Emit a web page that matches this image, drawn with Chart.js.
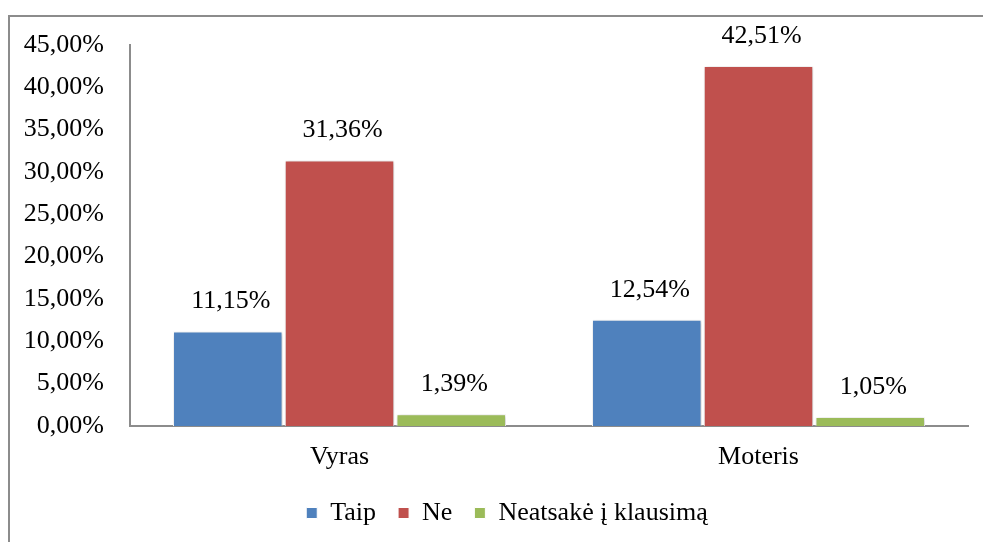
<!DOCTYPE html>
<html>
<head>
<meta charset="utf-8">
<script src="https://cdn.jsdelivr.net/npm/chart.js@4"></script>
<style>
  body { margin: 0; background: #fff; }
  #wrap { position: relative; width: 983px; height: 542px; overflow: hidden; }
  #frame { position: absolute; left: 8px; top: 15px; width: 1200px; height: 800px;
           border-top: 2px solid #8c8c8c; border-left: 2px solid #8c8c8c; }
  #chart { position: absolute; left: 0; top: 0; }
</style>
</head>
<body>
<div id="wrap">
  <div id="frame"></div>
  <canvas id="chart" width="983" height="542"></canvas>
</div>
<script>
const categories = ['Vyras', 'Moteris'];
const taip = [11.15, 12.54];
const ne = [31.36, 42.51];
const neatsake = [1.39, 1.05];
const seriesNames = ['Taip', 'Ne', 'Neatsakė į klausimą'];
const yMin = 0, yMax = 45, yStep = 5;

const fmt = v => v.toFixed(2).replace('.', ',') + '%';
const serif = "'Liberation Serif', 'Times New Roman', serif";
const fontSize = 26;

Chart.defaults.font.family = serif;
Chart.defaults.font.size = fontSize;
Chart.defaults.color = '#000';

// draws the value above each bar
const valueLabels = {
  id: 'valueLabels',
  afterDatasetsDraw(chart) {
    const ctx = chart.ctx;
    ctx.save();
    ctx.font = fontSize + 'px ' + serif;
    ctx.fillStyle = '#000';
    ctx.textAlign = 'center';
    ctx.textBaseline = 'middle';
    chart.data.datasets.forEach((ds, i) => {
      chart.getDatasetMeta(i).data.forEach((bar, j) => {
        ctx.fillText(fmt(ds.data[j]), bar.x + 3, bar.y - 30);
      });
    });
    ctx.restore();
  }
};

const barShadow = {
  id: 'barShadow',
  beforeDatasetsDraw(chart) {
    const ctx = chart.ctx;
    ctx.save();
    ctx.shadowColor = 'rgba(0,0,0,0.25)';
    ctx.shadowBlur = 4;
    ctx.shadowOffsetX = 1;
    ctx.shadowOffsetY = 1;
  },
  afterDatasetsDraw(chart) {
    chart.ctx.restore();
  }
};

// legend sits centred under the plot area, not the whole canvas
const legendShift = {
  id: 'legendShift',
  afterLayout(chart) {
    chart.legend.left += 23;
    chart.legend.right += 23;
  }
};

new Chart(document.getElementById('chart').getContext('2d'), {
  type: 'bar',
  data: {
    labels: categories,
    datasets: [
      { label: seriesNames[0], data: taip, backgroundColor: '#4F81BD' },
      { label: seriesNames[1], data: ne, backgroundColor: '#C0504D' },
      { label: seriesNames[2], data: neatsake, backgroundColor: '#9BBB59' }
    ]
  },
  options: {
    responsive: false,
    animation: false,
    layout: { padding: { left: 0, right: 15, top: 45, bottom: 6 } },
    datasets: {
      bar: {
        categoryPercentage: 0.8,
        barPercentage: 0.98,
        borderColor: '#ffffff',
        borderWidth: 1
      }
    },
    scales: {
      x: {
        grid: { display: false, drawTicks: false },
        border: { display: true, color: '#8c8c8c', width: 2 },
        ticks: { color: '#000', font: { family: serif, size: fontSize }, padding: 16 },
        afterFit(scale) { scale.height = 52; }
      },
      y: {
        min: yMin,
        max: yMax,
        grid: { display: false, drawTicks: false },
        border: { display: true, color: '#8c8c8c', width: 2 },
        ticks: {
          stepSize: yStep,
          color: '#000',
          padding: 26,
          font: { family: serif, size: fontSize },
          callback: v => fmt(v)
        },
        afterFit(scale) { scale.width = 130; }
      }
    },
    plugins: {
      legend: {
        position: 'bottom',
        labels: {
          color: '#000',
          font: { family: serif, size: fontSize },
          boxWidth: 11,
          boxHeight: 11,
          padding: 22
        }
      },
      tooltip: { enabled: false }
    }
  },
  plugins: [barShadow, valueLabels, legendShift]
});
</script>
</body>
</html>
